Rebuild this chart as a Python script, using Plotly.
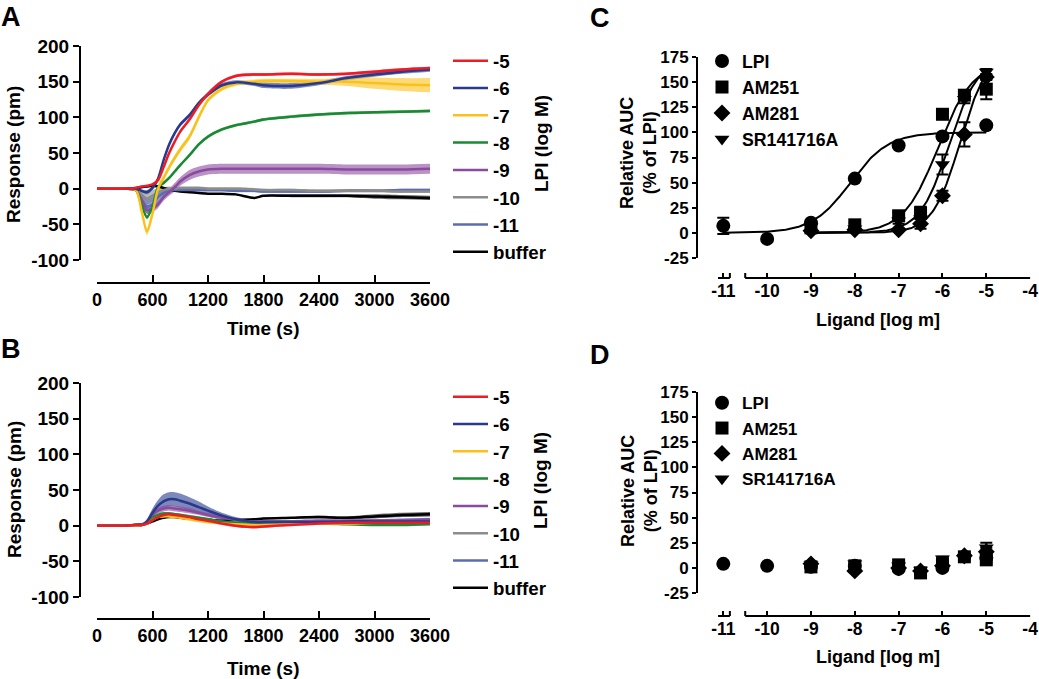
import numpy as np
import plotly.graph_objects as go

W, H = 1039, 679
FONT = "Liberation Sans, Arial, sans-serif"

# ---------------- DATA ----------------
time_s = [0, 300, 420, 480, 540, 600, 660, 720, 780, 840, 900, 1000, 1100, 1200,
          1350, 1500, 1700, 1800, 2100, 2400, 2700, 3000, 3300, 3600]

time_ticks = [0, 600, 1200, 1800, 2400, 3000, 3600]
time_tick_text = ["0", "600", "1200", "1800", "2400", "3000", "3600"]
resp_ticks = [-100, -50, 0, 50, 100, 150, 200]
resp_tick_text = ["-100", "-50", "0", "50", "100", "150", "200"]
lig_ticks = [-11, -10, -9, -8, -7, -6, -5, -4]
lig_tick_text = ["-11", "-10", "-9", "-8", "-7", "-6", "-5", "-4"]
auc_ticks = [-25, 0, 25, 50, 75, 100, 125, 150, 175]
auc_tick_text = ["-25", "0", "25", "50", "75", "100", "125", "150", "175"]

conc_labels = ["-5", "-6", "-7", "-8", "-9", "-10", "-11", "buffer"]
conc_colors = ["#ED1C24", "#283A8E", "#FBC11B", "#1A8A32", "#8A4B9E", "#8C8C8C", "#5C6CB0", "#000000"]

# Panel A (LPI) mean responses (pm)
a_m5 = [0, 0, 1, 3, 4, 6, 12, 30, 50, 66, 80, 97, 117, 133, 150, 158, 160, 160, 161, 160, 161, 164, 167, 169]
a_m6 = [0, 0, 0, -3, -5, 1, 14, 40, 62, 78, 90, 103, 120, 132, 145, 149, 147, 145, 144, 148, 155, 160, 164, 167]
a_m7 = [0, 0, -2, -30, -60, -35, 0, 15, 30, 43, 55, 73, 100, 124, 140, 147, 150, 151, 151, 150, 150, 148, 146, 145]
a_m8 = [0, 0, -2, -22, -40, -25, 2, 8, 15, 24, 33, 47, 62, 73, 83, 89, 94, 97, 101, 104, 106, 107, 108, 109]
a_m9 = [0, 0, -2, -15, -30, -28, -22, -12, -5, 2, 10, 19, 24, 27, 28, 28, 28, 28, 28, 28, 27, 27, 27, 28]
a_m10 = [0, 0, -1, -8, -14, -10, -5, -2, 0, 0, 1, 1, 1, 0, 0, 0, -1, -2, -2, -3, -3, -3, -4, -4]
a_m11 = [0, 0, -2, -15, -25, -22, -12, -6, -3, -2, -2, -2, -2, -2, -2, -3, -3, -4, -4, -4, -3, -3, -2, -2]
a_buf = [0, 0, 1, 2, 3, 4, 3, 1, -1, -3, -4, -5, -6, -7, -7, -8, -13, -10, -10, -10, -10, -11, -12, -13]
a_means = [a_m5, a_m6, a_m7, a_m8, a_m9, a_m10, a_m11, a_buf]

a_e5 = [1, 1, 1, 1, 1, 1, 2, 2, 2, 2, 2, 2, 2, 2, 2, 2, 2, 2, 2, 2, 2, 2, 2, 2]
a_e6 = [1, 1, 1, 2, 3, 3, 3, 3, 3, 3, 3, 3, 3, 3, 3, 3, 3, 4, 4, 3, 3, 3, 3, 3]
a_e7 = [1, 1, 2, 4, 5, 5, 5, 4, 4, 4, 4, 4, 4, 3, 3, 3, 3, 3, 3, 4, 6, 8, 9, 10]
a_e8 = [1, 1, 1, 2, 3, 3, 2, 2, 2, 2, 2, 2, 2, 2, 2, 2, 2, 2, 2, 2, 2, 2, 2, 2]
a_e9 = [1, 1, 2, 4, 5, 5, 5, 5, 5, 6, 6, 7, 7, 7, 7, 7, 7, 7, 7, 7, 7, 7, 7, 7]
a_e10 = [1, 1, 2, 6, 8, 8, 6, 4, 3, 2, 2, 2, 2, 2, 2, 2, 2, 2, 2, 2, 2, 2, 2, 2]
a_e11 = [1, 1, 2, 8, 10, 10, 8, 5, 3, 2, 2, 2, 2, 2, 2, 2, 2, 2, 2, 2, 2, 2, 2, 2]
a_ebuf = [1, 1, 1, 1, 1, 1, 1, 1, 1, 1, 1, 1, 1, 1, 1, 1, 1, 1, 2, 2, 2, 3, 3, 3]
a_errs = [a_e5, a_e6, a_e7, a_e8, a_e9, a_e10, a_e11, a_ebuf]

# Panel B mean responses (pm)
b_m5 = [0, 0, 1, 1, 3, 8, 12, 15, 16, 15, 14, 12, 9, 7, 3, 0, -2, -1, 1, 3, 4, 4, 4, 4]
b_m6 = [0, 0, 1, 1, 6, 18, 28, 34, 37, 37, 35, 31, 26, 21, 14, 9, 5, 5, 5, 5, 6, 6, 6, 6]
b_m7 = [0, 0, 0, 1, 3, 8, 12, 13, 13, 12, 11, 9, 7, 5, 3, 2, 1, 1, 2, 3, 3, 4, 4, 4]
b_m8 = [0, 0, 1, 1, 4, 11, 15, 17, 17, 16, 15, 13, 11, 9, 6, 4, 3, 3, 3, 3, 2, 1, 1, 2]
b_m9 = [0, 0, 1, 1, 5, 15, 21, 24, 25, 24, 23, 21, 18, 15, 11, 8, 6, 6, 6, 7, 7, 7, 7, 8]
b_m10 = [0, 0, 1, 1, 4, 10, 14, 15, 15, 14, 13, 11, 9, 7, 5, 4, 4, 4, 5, 5, 6, 6, 6, 6]
b_m11 = [0, 0, 1, 1, 4, 10, 14, 16, 16, 15, 14, 12, 10, 8, 5, 3, 2, 3, 4, 5, 6, 7, 8, 9]
b_buf = [0, 0, 1, 2, 3, 6, 9, 11, 12, 12, 11, 10, 9, 8, 7, 8, 9, 10, 11, 12, 11, 13, 15, 16]
b_means = [b_m5, b_m6, b_m7, b_m8, b_m9, b_m10, b_m11, b_buf]

b_e5 = [1, 1, 1, 1, 1, 2, 2, 2, 2, 2, 2, 2, 2, 2, 2, 2, 2, 2, 1, 1, 1, 1, 1, 1]
b_e6 = [1, 1, 1, 1, 3, 6, 8, 10, 10, 10, 10, 9, 8, 6, 4, 3, 2, 2, 2, 2, 2, 2, 3, 3]
b_e7 = [1, 1, 1, 1, 1, 2, 2, 2, 2, 2, 2, 2, 2, 2, 1, 1, 1, 1, 1, 1, 1, 1, 1, 1]
b_e8 = [1, 1, 1, 1, 1, 2, 2, 2, 2, 2, 2, 2, 2, 2, 1, 1, 1, 1, 1, 1, 1, 1, 1, 1]
b_e9 = [1, 1, 1, 1, 2, 3, 4, 4, 4, 4, 4, 4, 3, 3, 3, 2, 2, 2, 2, 2, 2, 2, 2, 2]
b_e10 = [1, 1, 1, 1, 1, 2, 2, 2, 2, 2, 2, 2, 2, 2, 1, 1, 1, 1, 1, 1, 1, 1, 1, 1]
b_e11 = [1, 1, 1, 1, 1, 2, 2, 2, 2, 2, 2, 2, 2, 2, 1, 1, 1, 1, 1, 1, 2, 2, 2, 2]
b_ebuf = [1, 1, 1, 1, 1, 1, 1, 1, 1, 1, 1, 1, 1, 1, 1, 1, 1, 1, 1, 2, 2, 3, 3, 3]
b_errs = [b_e5, b_e6, b_e7, b_e8, b_e9, b_e10, b_e11, b_ebuf]

# Panels C/D: concentration-response (relative AUC, % of LPI)
ligands = ["LPI", "AM251", "AM281", "SR141716A"]
lig_symbols = ["circle", "square", "diamond", "triangle-down"]
lig_sizes = [14, 13, 13, 13]

lpi_x = [-11, -10, -9, -8, -7, -6, -5]
ant_x = [-9, -8, -7, -6.5, -6, -5.5, -5]

c_lpi = [7, -6, 10, 54, 87, 96, 107]
c_lpi_err = [8, 1, 2, 2, 2, 2, 2]
c_am251 = [5, 8, 17, 20, 118, 137, 143]
c_am251_err = [2, 2, 3, 6, 3, 4, 10]
c_am281 = [2, 3, 3, 9, 37, 98, 155]
c_am281_err = [1, 1, 1, 5, 5, 12, 3]
c_sr = [6, 4, 12, 14, 68, 133, 160]
c_sr_err = [2, 2, 3, 5, 10, 4, 3]

d_lpi = [4, 2, 1, 2, -1, 0, 10]
d_lpi_err = [1, 1, 1, 1, 1, 1, 3]
d_am251 = [1, 2, 3, -5, 4, 11, 8]
d_am251_err = [1, 1, 1, 2, 2, 2, 3]
d_am281 = [4, -3, 0, -3, 2, 12, 16]
d_am281_err = [1, 1, 1, 1, 2, 2, 4]
d_sr = [3, 4, 2, -2, 9, 10, 20]
d_sr_err = [1, 1, 1, 1, 2, 2, 5]

# Fitted sigmoid parameters (bottom, top, logEC50, hill) for panel C
fit_lpi = (0, 100, -8.1, 1.0)
fit_am251 = (0, 170, -6.1, 1.1)
fit_sr = (0, 175, -5.85, 1.3)
fit_am281 = (0, 180, -5.6, 1.4)

# ---------------- HELPERS ----------------
def fx(px):
    return px / W

def fy(py):
    return 1 - py / H

def rgba(hexc, a):
    h = hexc.lstrip("#")
    r, g, b = int(h[0:2], 16), int(h[2:4], 16), int(h[4:6], 16)
    return f"rgba({r},{g},{b},{a})"

def hill(x, p):
    bottom, top, ec50, n = p
    x = np.asarray(x, dtype=float)
    return bottom + (top - bottom) / (1 + 10 ** ((ec50 - x) * n))

fig = go.Figure()

def add_kinetics(means, errs, xa, ya, legend):
    for m, e, c in zip(means, errs, conc_colors):
        lo = [v - d for v, d in zip(m, e)]
        hi = [v + d for v, d in zip(m, e)]
        fig.add_trace(go.Scatter(x=time_s, y=lo, xaxis=xa, yaxis=ya, mode="lines",
                                 line=dict(width=0, shape="spline", smoothing=0.8),
                                 showlegend=False, hoverinfo="skip"))
        fig.add_trace(go.Scatter(x=time_s, y=hi, xaxis=xa, yaxis=ya, mode="lines",
                                 line=dict(width=0, shape="spline", smoothing=0.8),
                                 fill="tonexty", fillcolor=rgba(c, 0.6),
                                 showlegend=False, hoverinfo="skip"))
    for i in list(range(len(means)))[::-1]:
        fig.add_trace(go.Scatter(x=time_s, y=means[i], xaxis=xa, yaxis=ya, mode="lines",
                                 name=conc_labels[i], legend=legend, legendrank=i + 1,
                                 line=dict(color=conc_colors[i], width=2.5, shape="spline", smoothing=0.8)))

add_kinetics(a_means, a_errs, "x", "y", "legend")
add_kinetics(b_means, b_errs, "x2", "y2", "legend2")

xs_lpi = np.linspace(-11, -5, 200)
xs_ant = np.linspace(-9, -5, 200)
for xs, p in [(xs_lpi, fit_lpi), (xs_ant, fit_am251), (xs_ant, fit_sr), (xs_ant, fit_am281)]:
    fig.add_trace(go.Scatter(x=xs, y=hill(xs, p), xaxis="x3", yaxis="y3", mode="lines",
                             line=dict(color="black", width=2), showlegend=False, hoverinfo="skip"))

def add_points(xa, ya, legend, series):
    for i, (xv, yv, ev) in enumerate(series):
        fig.add_trace(go.Scatter(x=xv, y=yv, xaxis=xa, yaxis=ya, mode="markers",
                                 name=ligands[i], legend=legend, legendrank=i + 1,
                                 marker=dict(symbol=lig_symbols[i], size=lig_sizes[i], color="black"),
                                 error_y=dict(type="data", array=ev, thickness=2, width=6, color="black")))

add_points("x3", "y3", "legend3", [(lpi_x, c_lpi, c_lpi_err), (ant_x, c_am251, c_am251_err),
                                    (ant_x, c_am281, c_am281_err), (ant_x, c_sr, c_sr_err)])
add_points("x4", "y4", "legend4", [(lpi_x, d_lpi, d_lpi_err), (ant_x, d_am251, d_am251_err),
                                    (ant_x, d_am281, d_am281_err), (ant_x, d_sr, d_sr_err)])

# ---------------- LAYOUT ----------------
def tf(size):
    return dict(family=FONT, size=size, color="black", weight="bold")

def time_x(dom_y):
    return dict(domain=[fx(97), fx(430)], range=[0, 3600], anchor="free", position=fy(dom_y),
                tickmode="array", tickvals=time_ticks, ticktext=time_tick_text,
                ticks="inside", ticklen=7, ticklabeloverflow="allow",
                tickwidth=2, tickcolor="black", showline=True, linewidth=2, linecolor="black",
                showgrid=False, zeroline=False, tickfont=tf(18), fixedrange=True)

def resp_y(top, bottom):
    return dict(domain=[fy(bottom), fy(top)], range=[-100, 200], anchor="free", position=fx(80),
                tickmode="array", tickvals=resp_ticks, ticktext=resp_tick_text,
                ticks="outside", ticklen=6, ticklabeloverflow="allow",
                tickwidth=2, tickcolor="black", showline=True, linewidth=2, linecolor="black",
                showgrid=False, zeroline=False, tickfont=tf(19), fixedrange=True)

def lig_x(dom_y):
    return dict(domain=[fx(697), fx(1031)], range=[-11.6, -3.98], anchor="free", position=fy(dom_y),
                tickmode="array", tickvals=lig_ticks, ticktext=lig_tick_text,
                ticks="inside", ticklen=5, ticklabeloverflow="allow",
                tickwidth=2, tickcolor="black", showline=False,
                showgrid=False, zeroline=False, tickfont=tf(17.5), fixedrange=True)

def auc_y(top, bottom):
    return dict(domain=[fy(bottom), fy(top)], range=[-25, 175], anchor="free", position=fx(697),
                tickmode="array", tickvals=auc_ticks, ticktext=auc_tick_text,
                ticks="outside", ticklen=4, ticklabeloverflow="allow",
                tickwidth=2, tickcolor="black", showline=True, linewidth=2, linecolor="black",
                showgrid=False, zeroline=False, tickfont=tf(17), fixedrange=True)

def legend_box(x_px, y_px, size, iw=30):
    return dict(x=fx(x_px), y=fy(y_px), xanchor="left", yanchor="top",
                font=tf(size), bgcolor="rgba(0,0,0,0)", borderwidth=0, itemwidth=iw,
                traceorder="normal", tracegroupgap=0)

shapes = []
for ax_y in (278, 616):
    yl = fy(ax_y)
    yt = fy(ax_y - 5)
    for x0, x1 in [(-11.12, -10.85), (-10.5, -4.0)]:
        shapes.append(dict(type="line", xref="x3", yref="paper", x0=x0, x1=x1, y0=yl, y1=yl,
                           line=dict(color="black", width=2)))
    for xe in (-10.85, -10.5):
        shapes.append(dict(type="line", xref="x3", yref="paper", x0=xe, x1=xe, y0=yl, y1=yt,
                           line=dict(color="black", width=2)))

def ann(text, x, y, size=19, angle=0):
    return dict(text=text, x=fx(x), y=fy(y), xref="paper", yref="paper", showarrow=False,
                xanchor="center", yanchor="middle", textangle=angle, font=tf(size))

annotations = [
    ann("A", 11, 17, 27), ann("B", 11, 349, 27), ann("C", 600, 18, 27), ann("D", 600, 355, 27),
    ann("Response (pm)", 14, 155, angle=-90), ann("Response (pm)", 14, 490, angle=-90),
    ann("Time (s)", 263, 328), ann("Time (s)", 263, 668),
    ann("LPI (log M)", 541, 144, angle=-90), ann("LPI (log M)", 540, 481, angle=-90),
    ann("Relative AUC<br>(% of LPI)", 639, 153, 18, angle=-90),
    ann("Relative AUC<br>(% of LPI)", 639, 491, 18, angle=-90),
    ann("Ligand [log m]", 878, 320, 18), ann("Ligand [log m]", 878, 657, 18),
]

fig.update_layout(
    width=W, height=H, margin=dict(l=0, r=0, t=0, b=0, autoexpand=False),
    paper_bgcolor="white", plot_bgcolor="white",
    xaxis=time_x(283), yaxis=resp_y(46, 260),
    xaxis2=time_x(619), yaxis2=resp_y(383, 597),
    xaxis3=lig_x(278), yaxis3=auc_y(57, 258),
    xaxis4=lig_x(616), yaxis4=auc_y(392, 593),
    legend=legend_box(448, 42, 18.7, 35),
    legend2=legend_box(448, 378, 18.7, 35),
    legend3=legend_box(702, 43, 17.7),
    legend4=legend_box(702, 385, 17.2),
    shapes=shapes, annotations=annotations,
    showlegend=True,
)

fig.write_html("out.html", config={"displayModeBar": False},
               post_script="document.body.style.margin='0px';document.body.style.overflow='hidden';")
